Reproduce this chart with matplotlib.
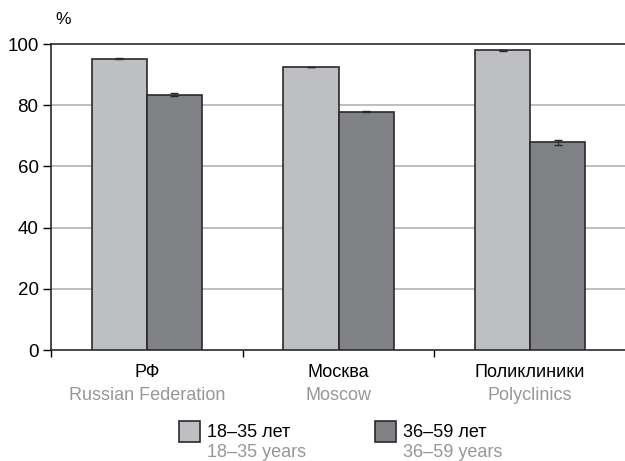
import numpy as np
import matplotlib.pyplot as plt
from matplotlib.patches import Rectangle

plt.rcParams['font.family'] = ['Liberation Sans Narrow', 'Liberation Sans', 'DejaVu Sans']

categories_ru = ["РФ", "Москва", "Поликлиники"]
categories_en = ["Russian Federation", "Moscow", "Polyclinics"]
young = [95.2, 92.5, 98.0]
young_err = [0.15, 0.1, 0.15]
older = [83.4, 77.9, 67.9]
older_err = [0.5, 0.15, 0.8]
series_ru = ["18–35 лет", "36–59 лет"]
series_en = ["18–35 years", "36–59 years"]

c_light = "#bebfc3"
c_dark = "#808185"
c_edge = "#2a2a2a"
c_grey_text = "#979797"

fig = plt.figure(figsize=(6.25, 4.61), dpi=100)
ax = fig.add_axes([51/625, 111/461, 575/625, 306/461])

x = np.arange(len(categories_ru))
w = 0.287
ax.bar(x - w/2, young, w, yerr=young_err, color=c_light, edgecolor=c_edge, linewidth=1.2,
       error_kw=dict(ecolor=c_edge, elinewidth=0.8, capsize=3), zorder=3)
ax.bar(x + w/2, older, w, yerr=older_err, color=c_dark, edgecolor=c_edge, linewidth=1.2,
       error_kw=dict(ecolor=c_edge, elinewidth=0.8, capsize=3), zorder=3)

ax.set_xlim(-0.5, 2.5)
ax.set_ylim(0, 100)
ax.set_yticks([0, 20, 40, 60, 80, 100])
ax.tick_params(axis='y', labelsize=13.5, length=6, width=1, direction='out', pad=3)
ax.set_xticks([-0.5, 0.5, 1.5])
ax.set_xticklabels([])
ax.tick_params(axis='x', length=5, width=1, direction='out')
for yv in [20, 40, 60, 80]:
    ax.axhline(yv, color="#b4b4b4", linewidth=1.2, zorder=1)
ax.spines['right'].set_visible(False)
for s in ['left', 'bottom', 'top']:
    ax.spines[s].set_color(c_edge)
    ax.spines[s].set_linewidth(1.2)

for i in range(len(categories_ru)):
    ax.text(x[i], -7.3, categories_ru[i], ha='center', va='center', fontsize=13,
            color='black', clip_on=False)
    ax.text(x[i], -15.0, categories_en[i], ha='center', va='center', fontsize=13,
            color=c_grey_text, clip_on=False)

fig.text(55/625, 1 - 20/461, "%", fontsize=12.5, ha='left', va='center')

# legend
colors = [c_light, c_dark]
lx = [179, 375]
for k in range(2):
    fig.patches.append(Rectangle((lx[k]/625, 1 - 442/461), 21/625, 21/461,
                                 transform=fig.transFigure, facecolor=colors[k],
                                 edgecolor=c_edge, linewidth=1.2))
    fig.text((lx[k] + 28)/625, 1 - 432/461, series_ru[k], fontsize=13, ha='left', va='center')
    fig.text((lx[k] + 28)/625, 1 - 452/461, series_en[k], fontsize=13, ha='left', va='center',
             color=c_grey_text)

fig.savefig("out.png", dpi=100)
